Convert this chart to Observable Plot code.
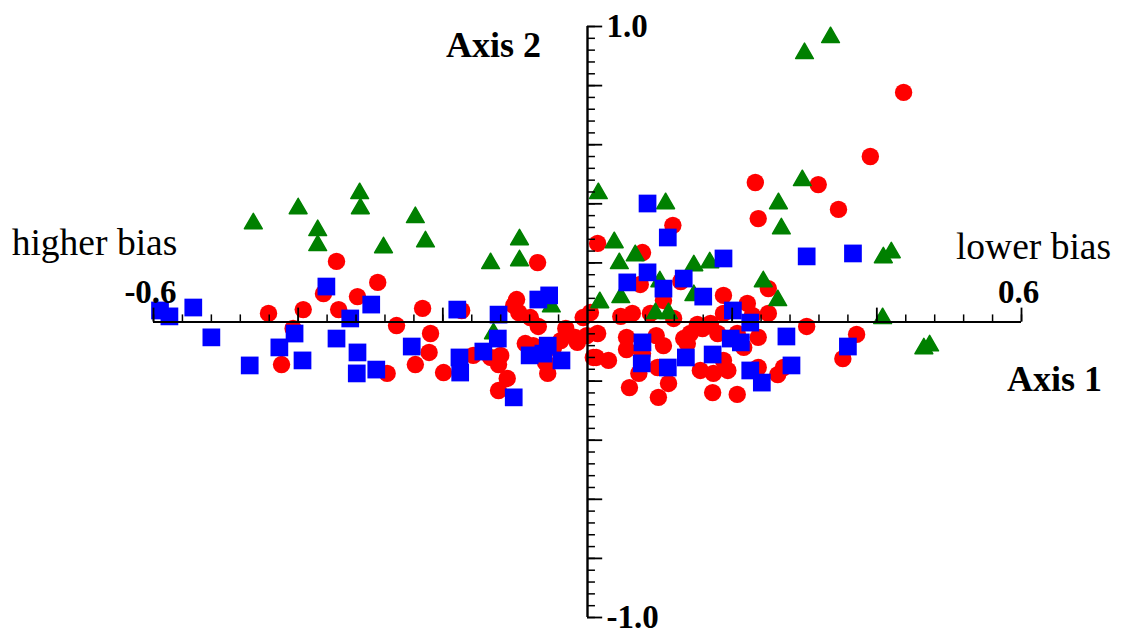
<!DOCTYPE html>
<html>
<head>
<meta charset="utf-8">
<script src="https://cdn.jsdelivr.net/npm/d3@7"></script>
<script src="https://cdn.jsdelivr.net/npm/@observablehq/plot@0.6"></script>
<style>
  html, body { margin: 0; padding: 0; background: #fff; }
</style>
</head>
<body>
<div id="chart"></div>
<script>
// Series (Axis 1, Axis 2)
const redPoints = [
  [0.437,0.777],[0.391,0.560],[0.232,0.472],[0.319,0.465],[0.347,0.381],[0.236,0.350],[0.118,0.327],
  [0.014,0.266],[0.076,0.235],[0.250,0.113],[0.073,0.127],[0.129,0.137],[0.105,0.073],[0.188,0.090],
  [0.221,0.063],[0.250,0.029],[0.303,-0.015],[0.372,-0.042],[0.353,-0.124],[0.004,0.032],[0.062,0.029],
  [0.046,0.019],[0.087,0.029],[0.119,0.012],[0.152,-0.008],[0.170,-0.005],[0.188,0.029],[0.228,0.022],
  [-0.017,-0.052],[0.014,-0.039],[0.012,-0.120],[0.029,-0.130],[0.054,-0.052],[0.054,-0.093],[0.076,-0.107],
  [0.095,-0.046],[0.105,-0.080],[0.097,-0.154],[0.071,-0.174],[0.112,-0.208],[0.098,-0.255],[0.058,-0.222],
  [0.133,-0.056],[0.142,-0.039],[0.159,-0.022],[0.180,-0.039],[0.207,-0.039],[0.216,-0.086],[0.188,-0.130],
  [0.194,-0.164],[0.174,-0.174],[0.173,-0.239],[0.207,-0.245],[0.236,-0.154],[0.263,-0.178],[0.271,-0.154],
  [0.236,-0.052],[0.156,-0.164],[0.138,-0.073],
  [-0.347,0.205],[-0.365,0.096],[-0.344,0.042],[-0.393,0.042],[-0.441,0.029],[-0.407,-0.022],[-0.423,-0.144],
  [-0.290,0.134],[-0.318,0.086],[-0.228,0.046],[-0.174,0.039],[-0.264,-0.012],[-0.217,-0.039],[-0.219,-0.103],
  [-0.238,-0.144],[-0.277,-0.174],[-0.199,-0.171],[-0.158,-0.113],[-0.134,-0.120],[-0.120,-0.113],[-0.123,-0.144],
  [-0.111,-0.191],[-0.123,-0.232],[-0.098,0.076],[-0.102,0.056],[-0.095,0.032],[-0.079,0.015],[-0.069,0.201],
  [-0.068,-0.015],[-0.086,-0.073],[-0.055,-0.174],[-0.058,-0.137],[-0.030,-0.022],[-0.014,-0.069],[-0.006,0.015],
  [-0.047,-0.086],[0.008,-0.120],[-0.075,-0.080],[-0.037,-0.063],[-0.001,-0.046]
];
const greenPoints = [
  [-0.462,0.333],[-0.400,0.384],[-0.373,0.310],[-0.373,0.259],[-0.315,0.435],[-0.314,0.384],[-0.238,0.354],
  [-0.282,0.252],[-0.224,0.272],[-0.134,0.198],[-0.094,0.279],[-0.094,0.208],[-0.130,-0.039],[-0.050,0.052],
  [0.015,0.435],[0.108,0.401],[0.037,0.269],[0.066,0.225],[0.044,0.198],[0.100,0.137],[0.147,0.191],
  [0.169,0.201],[0.147,0.090],[0.017,0.066],[0.046,0.083],[0.094,0.029],[0.112,0.029],[0.297,0.479],
  [0.264,0.401],[0.268,0.316],[0.409,0.218],[0.420,0.235],[0.243,0.137],[0.263,0.073],[0.408,0.012],
  [0.465,-0.090],[0.473,-0.080],[0.336,0.963],[0.300,0.909]
];
const bluePoints = [
  [-0.591,0.039],[-0.578,0.019],[-0.545,0.049],[-0.520,-0.052],[-0.467,-0.147],[-0.426,-0.086],[-0.405,-0.039],
  [-0.394,-0.130],[-0.361,0.120],[-0.347,-0.056],[-0.328,0.012],[-0.318,-0.103],[-0.319,-0.174],[-0.292,-0.161],
  [-0.299,0.059],[-0.243,-0.083],[-0.180,0.042],[-0.177,-0.120],[-0.176,-0.171],[-0.144,-0.100],[-0.124,-0.056],
  [-0.123,0.025],[-0.102,-0.255],[-0.080,-0.113],[-0.068,0.076],[-0.053,0.090],[-0.061,-0.107],[-0.055,-0.080],
  [-0.036,-0.130],[0.083,0.401],[0.111,0.286],[0.083,0.168],[0.055,0.134],[0.105,0.113],[0.133,0.147],
  [0.188,0.215],[0.160,0.086],[0.201,0.039],[0.076,-0.069],[0.075,-0.140],[0.111,-0.154],[0.136,-0.120],
  [0.173,-0.110],[0.198,-0.056],[0.212,-0.069],[0.225,-0.002],[0.225,-0.164],[0.241,-0.205],[0.303,0.222],
  [0.367,0.232],[0.275,-0.049],[0.360,-0.083],[0.282,-0.147]
];
const xTickLabels = [[-0.6, "-0.6"], [0.6, "0.6"]];
const yTickLabels = [[1, "1.0"], [-1, "-1.0"]];

const xMinor = d3.range(-15, 16).map(i => i * 0.04).filter(v => Math.abs(v) > 1e-9);
const xMajor = xMinor.filter(v => Math.abs(Math.round(v * 5) - v * 5) < 1e-6);
const yMinor = d3.range(-25, 26).map(i => i * 0.04);
const yMajor = yMinor.filter(v => Math.abs(Math.round(v * 5) - v * 5) < 1e-6);

const font = "'Liberation Serif', 'Times New Roman', serif";

const chart = Plot.plot({
  width: 1122,
  height: 633,
  marginLeft: 153,
  marginRight: 101,
  marginTop: 26,
  marginBottom: 16,
  x: {domain: [-0.6, 0.6], axis: null},
  y: {domain: [-1, 1], axis: null},
  style: {fontFamily: font, background: "#fff", overflow: "visible"},
  marks: [
    // red circles
    Plot.dot(redPoints, {x: d => d[0], y: d => d[1], r: 8.7, fill: "#ff0000", symbol: "circle"}),
    // green triangles
    Plot.dot(greenPoints, {x: d => d[0], y: d => d[1], r: 6.6, fill: "#008000", stroke: "#008000",
      strokeWidth: 1.5, strokeLinejoin: "round", symbol: "triangle"}),
    // blue squares
    Plot.dot(bluePoints, {x: d => d[0], y: d => d[1], r: 10, fill: "#0000ff", symbol: "square"}),
    // axes lines
    Plot.ruleY([0], {x1: -0.6, x2: 0.6, stroke: "#000", strokeWidth: 2.2}),
    Plot.ruleX([0], {y1: -1, y2: 1, stroke: "#000", strokeWidth: 2.4}),
    // x ticks (upward)
    Plot.ruleX(xMinor, {x: d => d, y1: 0, y2: 0.024, stroke: "#000", strokeWidth: 1.5}),
    Plot.ruleX(xMajor, {x: d => d, y1: 0, y2: 0.047, stroke: "#000", strokeWidth: 1.8}),
    // y ticks (right)
    Plot.ruleY(yMinor, {y: d => d, x1: 0, x2: 0.011, stroke: "#000", strokeWidth: 1.5}),
    Plot.ruleY(yMajor, {y: d => d, x1: 0, x2: 0.021, stroke: "#000", strokeWidth: 1.8}),
    // tick labels
    Plot.text(xTickLabels, {x: d => d[0], y: 0, text: d => d[1], dx: -3, dy: -30,
      fontSize: 33, fontWeight: "bold", fill: "#000"}),
    Plot.text(yTickLabels, {x: 0, y: d => d[0], text: d => d[1], dx: 19, dy: 0, textAnchor: "start",
      fontSize: 33, fontWeight: "bold", fill: "#000"}),
    // axis titles
    Plot.text(["Axis 2"], {x: 0, y: 1, text: d => d, dx: -94, dy: 19, fontSize: 36, fontWeight: "bold", fill: "#000"}),
    Plot.text(["Axis 1"], {x: 0.6, y: 0, text: d => d, dx: 33, dy: 57, fontSize: 36, fontWeight: "bold", fill: "#000"}),
    Plot.text(["higher bias"], {x: -0.6, y: 0, text: d => d, dx: -59, dy: -79, fontSize: 37.5, fill: "#000"}),
    Plot.text(["lower bias"], {x: 0.6, y: 0, text: d => d, dx: 12, dy: -75, fontSize: 37.5, fill: "#000"})
  ]
});
document.getElementById("chart").appendChild(chart);
</script>
</body>
</html>
